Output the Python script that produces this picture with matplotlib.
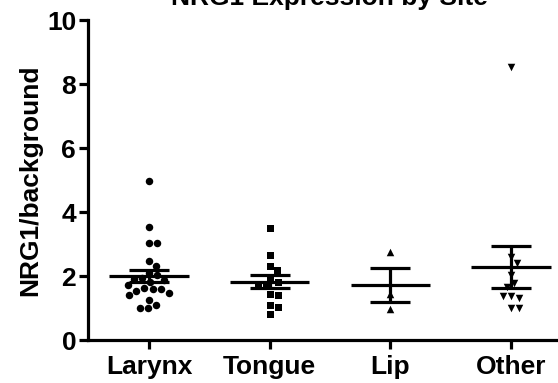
import numpy as np
import matplotlib.pyplot as plt

plt.rcParams['font.family'] = ['Liberation Sans', 'DejaVu Sans']
plt.rcParams['font.weight'] = 'bold'

sites = ["Larynx", "Tongue", "Lip", "Other"]
larynx = [4.98, 3.52, 3.03, 3.03, 2.47, 2.31, 2.08, 2.03, 1.93, 1.91, 1.88, 1.82,
          1.72, 1.63, 1.58, 1.59, 1.54, 1.48, 1.41, 1.25, 1.09, 0.99, 0.99]
tongue = [3.49, 2.66, 2.32, 2.19, 1.94, 1.82, 1.72, 1.72, 1.44, 1.41, 1.09, 1.02, 0.81]
lip = [2.76, 1.44, 0.96]
other = [8.54, 2.60, 2.42, 2.03, 1.79, 1.65, 1.38, 1.30, 1.38, 1.01, 1.01]
groups = [larynx, tongue, lip, other]
markers = ["o", "s", "^", "v"]
msizes = [7.5, 7, 7.5, 7.5]  # px

# pixel scale of the axes (px per data unit)
PX_X = 120.5
PX_Y = 32.0


def swarm(vals, d=8.0, step=1.0):
    placed = []
    offs = []
    for v in vals:
        y = v * PX_Y
        k = 0
        while True:
            cands = [0.0] if k == 0 else [k * step, -k * step]
            ok = None
            for c in cands:
                if all((c - px) ** 2 + (y - py) ** 2 >= d ** 2 for px, py in placed):
                    ok = c
                    break
            if ok is not None:
                placed.append((ok, y))
                offs.append(ok / PX_X)
                break
            k += 1
    return np.array(offs)


fig = plt.figure(figsize=(5.58, 3.83), dpi=100)
ax = fig.add_axes([88 / 558, 43 / 383, 470 / 558, 320 / 383])

for i, vals in enumerate(groups):
    vals = np.array(vals)
    xo = swarm(vals)
    ax.scatter(i + xo, vals, marker=markers[i], s=(msizes[i] * 0.72) ** 2,
               color='black', linewidths=0, zorder=2)
    m = vals.mean()
    se = vals.std(ddof=1) / np.sqrt(len(vals))
    ax.hlines(m, i - 0.33, i + 0.33, color='black', lw=2.3, zorder=3)
    ax.hlines([m - se, m + se], i - 0.165, i + 0.165, color='black', lw=2.3, zorder=3)
    ax.vlines(i, m - se, m + se, color='black', lw=2.3, zorder=3)

ax.set_xlim(-0.506, 3.39)
ax.set_ylim(0, 10)
ax.set_yticks([0, 2, 4, 6, 8, 10])
ax.set_xticks(range(len(sites)))
ax.set_xticklabels(sites)
for s in ['top', 'right']:
    ax.spines[s].set_visible(False)
for s in ['left', 'bottom']:
    ax.spines[s].set_linewidth(2.3)
ax.tick_params(axis='both', length=6.5, width=2.3, labelsize=19)
ax.tick_params(axis='y', pad=2)
ax.tick_params(axis='x', pad=4)

ax.set_ylabel("NRG1/background", fontsize=19, fontweight='bold')
ax.yaxis.set_label_coords(-0.098, 0.5)

fig.text(329 / 558, 1 - 5 / 383, "NRG1 Expression by Site", ha='center',
         va='baseline', fontsize=19, fontweight='bold')

fig.savefig("out.png", dpi=100)
